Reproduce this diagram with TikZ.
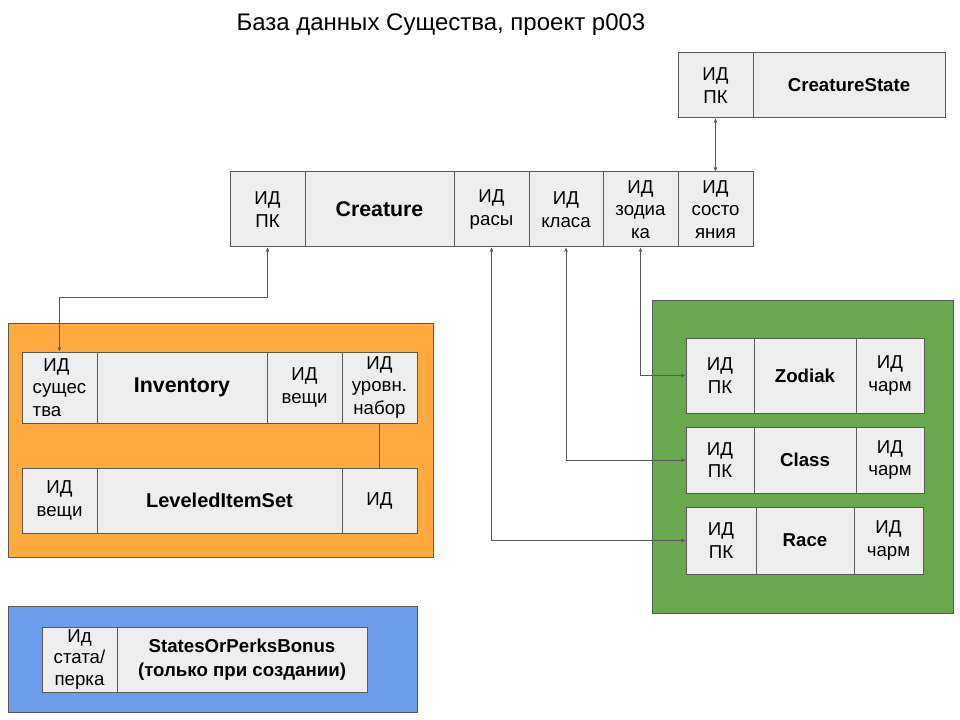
\documentclass[tikz,border=0pt]{standalone}
\usepackage{fontspec}
\setmainfont{Liberation Sans}
\usetikzlibrary{arrows.meta}
\definecolor{cellfill}{HTML}{EEEEEE}
\definecolor{edgec}{HTML}{595959}
\definecolor{orangep}{HTML}{FFAB40}
\definecolor{greenp}{HTML}{6AA84F}
\definecolor{bluep}{HTML}{6D9EEB}
\newcommand\mkbox[7]{%
  \pgfmathsetmacro\bw{(#4-#2)*0.75}%
  \pgfmathsetmacro\bh{(#5-#3)*0.75}%
  \node[#7, minimum width=\bw pt, minimum height=\bh pt] (#1) at ({(#2+#4)/2},{(#3+#5)/2}) {#6};}
\tikzset{
  cellst/.style={draw=edgec, fill=cellfill, line width=0.75pt, inner sep=0pt, align=center,
    font=\fontsize{14}{16.8}\selectfont},
  panelst/.style={draw=edgec, line width=0.75pt, inner sep=0pt, fill=#1},
  conn/.style={draw=edgec, line width=0.75pt,
    {Stealth[length=3.5pt,width=2.8pt]}-{Stealth[length=3.5pt,width=2.8pt]}},
  plain/.style={draw=edgec, line width=0.75pt},
  titlest/.style={font=\fontsize{18}{21}\selectfont, inner sep=0pt}
}
\begin{document}
\begin{tikzpicture}[x=0.75pt,y=-0.75pt]
\useasboundingbox (0,0) rectangle (960,720);
\fill[white] (0,0) rectangle (960,720);
\node[titlest] (title) at (441,25) {База данных Существа, проект p003};

% panels
\mkbox{orangepanel}{8}{323}{433}{557}{}{panelst=orangep}
\mkbox{greenpanel}{652}{301}{953}{613}{}{panelst=greenp}
\mkbox{bluepanel}{8}{606}{417}{712}{}{panelst=bluep}

% CreatureState
\mkbox{cspk}{678}{53}{753}{118}{ИД\\ПК}{cellst}
\mkbox{csname}{753}{53}{945}{118}{\textbf{CreatureState}}{cellst}

% Creature
\mkbox{cpk}{230}{172}{305}{247}{ИД\\ПК}{cellst}
\mkbox{cname}{305}{172}{454}{247}{\raisebox{-2pt}{\fontsize{16}{19}\selectfont\textbf{Creature}}}{cellst}
\mkbox{crace}{454}{172}{529}{247}{ИД\\расы}{cellst}
\mkbox{ccls}{529}{172}{603}{247}{ИД\\класа}{cellst}
\mkbox{czod}{603}{172}{678}{247}{ИД\\зодиа\\ка}{cellst}
\mkbox{cst}{678}{172}{753}{247}{ИД\\состо\\яния}{cellst}

% Inventory
\mkbox{invc}{22}{352}{97}{423}{\hspace*{8pt}ИД\\сущес\\тва}{cellst, align=left}
\mkbox{invname}{97}{352}{267}{423}{\raisebox{-2.5pt}{\fontsize{16}{19}\selectfont\textbf{Inventory}}}{cellst}
\mkbox{invitem}{267}{352}{342}{423}{ИД\\вещи}{cellst}
\mkbox{invset}{342}{352}{417}{423}{ИД\\уровн.\\набор}{cellst}

% LeveledItemSet
\mkbox{lisitem}{22}{468}{97}{533}{ИД\\вещи}{cellst}
\mkbox{lisname}{97}{468}{342}{533}{\fontsize{15}{18}\selectfont\textbf{LeveledItemSet}}{cellst}
\mkbox{lisid}{342}{468}{417}{533}{ИД}{cellst}

% Zodiak, Class, Race
\mkbox{zodpk}{686}{338}{754}{413}{ИД\\ПК}{cellst}
\mkbox{zodname}{754}{338}{856}{413}{\textbf{Zodiak}}{cellst}
\mkbox{zodch}{856}{338}{924}{413}{ИД\\чарм}{cellst}

\mkbox{clspk}{686}{427}{754}{493}{ИД\\ПК}{cellst}
\mkbox{clsname}{754}{427}{856}{493}{\textbf{Class}}{cellst}
\mkbox{clsch}{856}{427}{924}{493}{ИД\\чарм}{cellst}

\mkbox{racepk}{686}{507}{756}{574}{ИД\\ПК}{cellst}
\mkbox{racename}{756}{507}{854}{574}{\textbf{Race}}{cellst}
\mkbox{racech}{854}{507}{923}{574}{ИД\\чарм}{cellst}

% StatesOrPerksBonus
\mkbox{spid}{42}{627}{117}{692}{Ид\\стата/\\перка}{cellst, font=\fontsize{14}{15.8}\selectfont}
\mkbox{spname}{117}{627}{367}{692}{\textbf{StatesOrPerksBonus}\\\textbf{(только при создании)}}{cellst, font=\fontsize{14}{18}\selectfont}

% connectors
\coordinate (jog) at (0,298);
\draw[conn] (cspk.south) -- (cst.north);
\draw[conn] (cpk.south) -- (cpk.south |- jog) -- (invc.north |- jog) -- (invc.north);
\draw[conn] (czod.south) |- (zodpk.west);
\draw[conn] (ccls.south) |- (clspk.west);
\draw[conn] (crace.south) |- (racepk.west);
\draw[plain] (invset.south) -- (lisid.north);
\end{tikzpicture}
\end{document}
